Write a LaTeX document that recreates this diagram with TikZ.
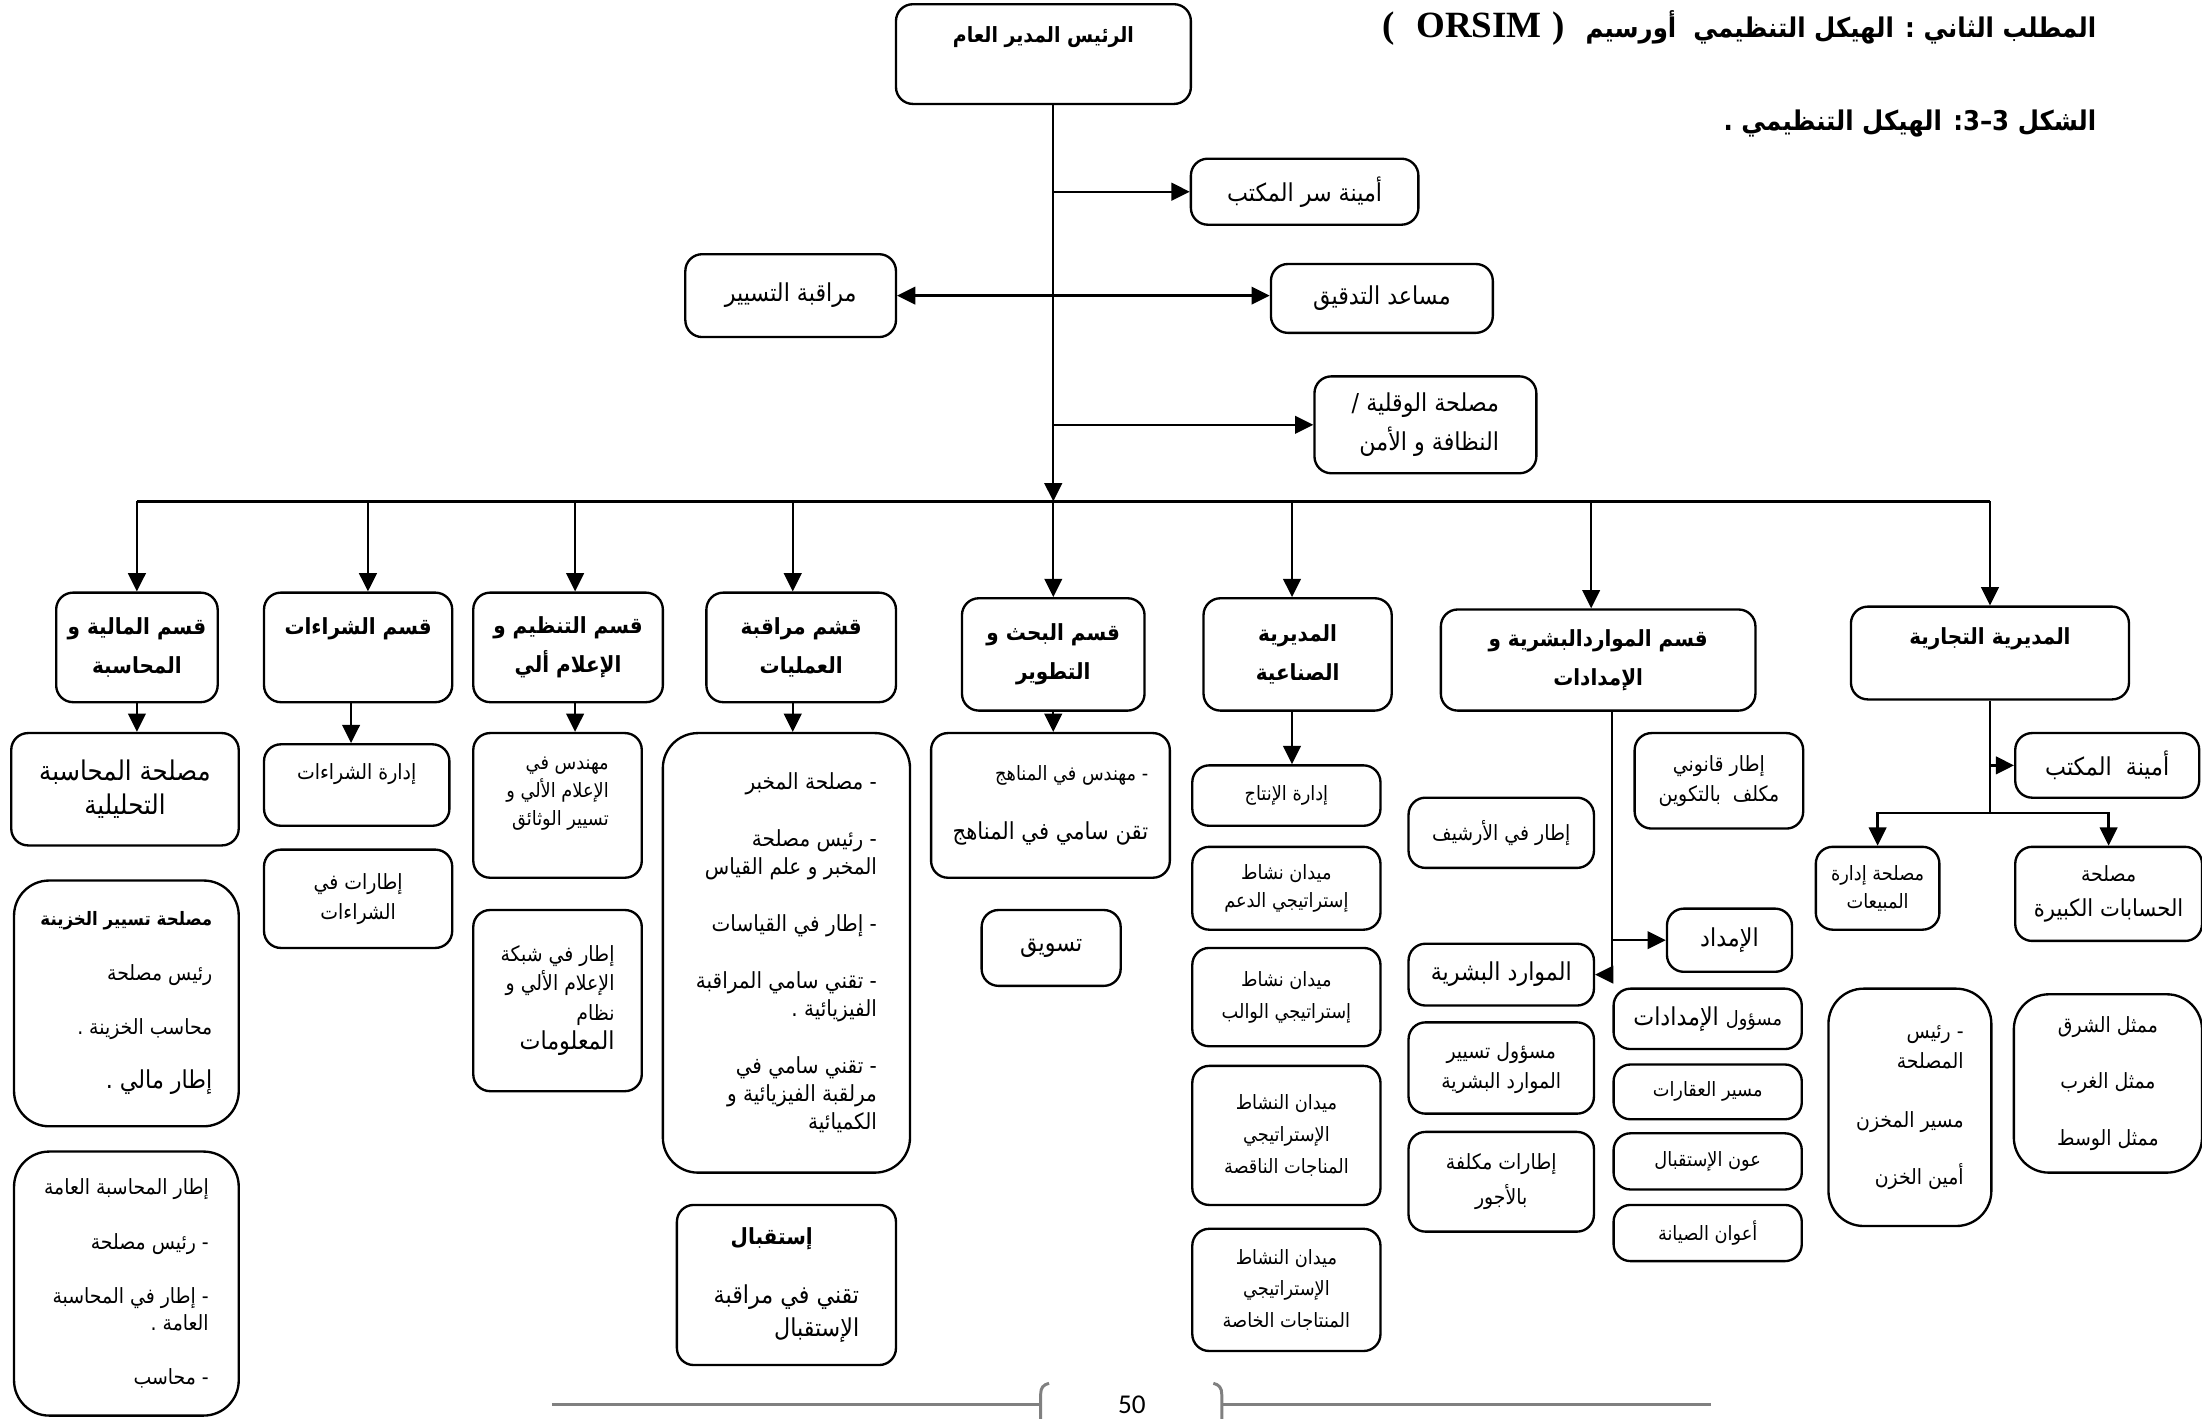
\documentclass[tikz,border=0pt]{standalone}
\usepackage{fontspec}
\newfontfamily\arabicfont[Script=Arabic,FakeStretch=0.9]{DejaVu Sans}
\newfontfamily\latinserif{Liberation Serif}
\newfontfamily\pagefont{Carlito}
\TeXXeTstate=1
\usetikzlibrary{arrows.meta,calc}
\newcommand{\ar}[1]{\beginR #1\endR}
\newcommand{\orgbox}[7]{%
  \node[box,#1,minimum width={(#5-(#3))*0.2mm},minimum height={(#6-(#4))*0.2mm}]
    (#2) at ({(#3+#5)/2},{(#4+#6)/2}) {#7};%
}

\begin{document}
\begin{tikzpicture}[
  x=0.2mm, y=-0.2mm,
  >={Triangle[length=2.6mm,width=2.5mm]},
  box/.style={draw, line width=0.95pt, rounded corners=2.4mm, inner xsep=3pt, inner ysep=0pt, align=center},
  bigcorner/.style={rounded corners=5mm},
  topline/.style 2 args={text height=#1, text depth=#2},
  titletxt/.style={font=\arabicfont\bfseries\fontsize{11}{14}\selectfont, inner sep=0pt},
  headtxt/.style={font=\arabicfont\bfseries\fontsize{9}{16}\selectfont},
  headsmall/.style={font=\arabicfont\bfseries\fontsize{8.5}{12}\selectfont},
  bodyL/.style={font=\arabicfont\fontsize{10}{14}\selectfont},
  bodyM/.style={font=\arabicfont\fontsize{8.5}{12}\selectfont},
  bodyS/.style={font=\arabicfont\fontsize{8}{11.4}\selectfont},
  wire/.style={line width=0.95pt},
  link/.style={->, line width=0.95pt},
  footer/.style={draw=black!50, line width=1.2pt}
]
\path[use as bounding box] (0,0) rectangle (1568,1010);

% Heading
\node[titletxt, anchor=east] (title) at (1493,20)
  {{\latinserif\bfseries\fontsize{15}{17}\selectfont (\hspace{3mm}ORSIM\hspace{1.5mm})}\hspace{3mm}\ar{المطلب الثاني : الهيكل التنظيمي \ أورسيم}};
\node[titletxt, anchor=east] (figcap) at (1493,88)
  {\ar{الشكل 3–3: الهيكل التنظيمي .}};

% General management and staff
\orgbox{headsmall,topline={15.4pt}{25pt}}{ceo}{638}{3}{848}{74}{\ar{الرئيس المدير العام}}
\orgbox{bodyL}{sec}{848}{113}{1010}{160}{\ar{أمينة سر المكتب}}
\orgbox{bodyL}{ctrl}{488}{181}{638}{240}{\ar{مراقبة التسيير}}
\orgbox{bodyL}{audit}{905}{188}{1063}{237}{\ar{مساعد التدقيق}}
\orgbox{bodyL,align=right}{safe}{936}{268}{1094}{337}{\ar{مصلحة الوقلية /}\\[2pt]\ar{النظافة و الأمن}}

\coordinate (trunk) at ([xshift=1.4mm]ceo.south);
\coordinate (bus) at (750,357);
\draw[link] (trunk) -- (trunk |- bus);
\draw[link] (trunk |- sec.west) -- (sec.west);
\draw[wire, <->] (ctrl.east) -- (ctrl.east -| audit.west);
\draw[link] (trunk |- safe.west) -- (safe.west);

% Departments
\orgbox{headtxt}{fin}{40}{422}{155}{500}{\ar{قسم المالية و}\\\ar{المحاسبة}}
\orgbox{headtxt,topline={17pt}{27.4pt}}{pur}{188}{422}{322}{500}{\ar{قسم الشراءات}}
\orgbox{headtxt}{org}{337}{422}{472}{500}{\ar{قسم التنظيم و}\\\ar{الإعلام ألي}}
\orgbox{headtxt}{ops}{503}{422}{638}{500}{\ar{قشم مراقبة}\\\ar{العمليات}}
\orgbox{headtxt}{rd}{685}{426}{815}{506}{\ar{قسم البحث و}\\\ar{التطوير}}
\orgbox{headtxt}{ind}{857}{426}{991}{506}{\ar{المديرية}\\\ar{الصناعية}}
\orgbox{headtxt}{hr}{1026}{434}{1250}{506}{\ar{قسم المواردالبشرية و}\\\ar{الإمدادات}}
\orgbox{headtxt,topline={15.4pt}{22.2pt}}{com}{1318}{432}{1516}{498}{\ar{المديرية التجارية}}

\draw[wire] (fin.north |- bus) -- (com.north |- bus);
\foreach \d/\s in {fin/0,pur/7,org/5,ops/-6,rd/0,ind/-4,hr/-5,com/0}
  \draw[link] ([xshift=\s*0.2mm]\d.north |- bus) -- ([xshift=\s*0.2mm]\d.north);

% Finance
\orgbox{bodyL,font=\arabicfont\fontsize{11}{14}\selectfont}{fone}{8}{522}{170}{602}{\ar{مصلحة المحاسبة}\\\ar{التحليلية}}
\orgbox{bodyM,bigcorner,align=right}{ftwo}{10}{627}{170}{802}
  {\ar{{\bfseries\fontsize{7.5}{10}\selectfont مصلحة تسيير الخزينة}}\\[10pt]\ar{رئيس مصلحة}\\[10pt]\ar{محاسب الخزينة .}\\[10pt]\ar{{\fontsize{10}{14}\selectfont إطار مالي .}}}
\orgbox{bodyM,bigcorner,align=right}{fthree}{10}{820}{170}{1008}
  {\ar{إطار المحاسبة العامة}\\[10pt]\ar{- رئيس مصلحة}\\[10pt]\ar{- إطار في المحاسبة}\\[-1pt]\ar{العامة .}\\[10pt]\ar{- محاسب}}

% Purchasing
\orgbox{bodyM,topline={14.2pt}{18.8pt}}{pone}{188}{530}{320}{588}{\ar{إدارة الشراءات}}
\orgbox{bodyM}{ptwo}{188}{605}{322}{675}{\ar{إطارات في}\\\ar{الشراءات}}

% Organisation and computing
\orgbox{bodyS,align=right,topline={37.6pt}{21pt}}{oone}{337}{522}{457}{625}
  {\ar{مهندس في}\\\ar{الإعلام الألي و}\\\ar{تسيير الوثائق}}
\orgbox{bodyM,align=right}{otwo}{337}{648}{457}{777}
  {\ar{إطار في شبكة}\\\ar{الإعلام الألي و}\\\ar{نظام}\\\ar{{\fontsize{10}{14}\selectfont المعلومات}}}

% Operations control
\orgbox{bigcorner,align=right,font=\arabicfont\fontsize{9}{11.4}\selectfont}{cone}{472}{522}{648}{835}
  {\ar{- مصلحة المخبر}\\[11.6pt]\ar{- رئيس مصلحة}\\\ar{المخبر و علم القياس}\\[11.6pt]\ar{- إطار في القياسات}\\[11.6pt]%
   \ar{- تقني سامي المراقبة}\\\ar{الفيزيائية .}\\[11.6pt]\ar{- تقني سامي في}\\\ar{مرلقبة الفيزيائية و}\\\ar{الكميائية}}
\orgbox{bodyL,align=right}{ctwo}{482}{858}{638}{972}
  {\ar{{\bfseries\fontsize{9}{10}\selectfont إستقبال}}\rule{6.6mm}{0pt}\\[10pt]\ar{تقني في مراقبة}\\[-1pt]\ar{الإستقبال}}

% Research and development
\orgbox{align=right,font=\arabicfont}{rone}{663}{522}{833}{625}
  {\ar{{\fontsize{8}{9}\selectfont - مهندس في المناهج}}\\[12pt]\ar{{\fontsize{9.5}{12}\selectfont تقن سامي في المناهج}}}
\orgbox{bodyL}{rtwo}{699}{648}{798}{702}{\ar{تسويق}}

% Industrial directorate
\orgbox{bodyS}{ione}{849}{545}{983}{588}{\ar{إدارة الإنتاج}}
\orgbox{bodyS}{itwo}{849}{603}{983}{662}{\ar{ميدان نشاط}\\\ar{إستراتيجي الدعم}}
\orgbox{bodyS}{ithree}{849}{675}{983}{745}{\ar{ميدان نشاط}\\[1.5pt]\ar{إستراتيجي الوالب}}
\orgbox{bodyS}{ifour}{849}{759}{983}{858}{\ar{ميدان النشاط}\\[1.5pt]\ar{الإستراتيجي}\\[1.5pt]\ar{المناجات الناقصة}}
\orgbox{bodyS}{ifive}{849}{875}{983}{962}{\ar{ميدان النشاط}\\[1.5pt]\ar{الإستراتيجي}\\[1.5pt]\ar{المنتاجات الخاصة}}

\foreach \a/\b/\s in {fin/fone/0,pur/pone/-5,org/oone/5,ops/cone/-6,rd/rone/0,ind/ione/-4}
  \draw[link] ([xshift=\s*0.2mm]\a.south) -- ([xshift=\s*0.2mm]\a.south |- \b.north);

% Human resources and supplies
\orgbox{bodyM}{htrain}{1164}{522}{1284}{590}{\ar{إطار قانوني}\\\ar{مكلف \ بالتكوين}}
\orgbox{bodyM}{harch}{1003}{568}{1135}{618}{\ar{إطار في الأرشيف}}
\orgbox{bodyL}{supply}{1187}{647}{1276}{692}{\ar{الإمداد}}
\orgbox{bodyL}{hrm}{1003}{672}{1135}{716}{\ar{الموارد البشرية}}
\orgbox{bodyM}{hthree}{1003}{728}{1135}{793}{\ar{مسؤول تسيير}\\\ar{الموارد البشرية}}
\orgbox{bodyM}{hfour}{1003}{806}{1135}{877}{\ar{إطارات مكلفة}\\[2pt]\ar{بالأجور}}
\orgbox{font=\arabicfont}{sone}{1149}{704}{1283}{747}
  {\ar{{\fontsize{8}{9}\selectfont مسؤول} {\fontsize{10}{12}\selectfont الإمدادات}}}
\orgbox{bodyS}{stwo}{1149}{758}{1283}{797}{\ar{مسير العقارات}}
\orgbox{bodyS}{sthree}{1149}{807}{1283}{847}{\ar{عون الإستقبال}}
\orgbox{bodyS}{sfour}{1149}{858}{1283}{898}{\ar{أعوان الصيانة}}

\coordinate (hrstem) at ([xshift=2mm]hr.south);
\draw[link] (hrstem) |- (hrm.east);
\draw[link] (hrstem |- supply.west) -- (supply.west);

% Commercial directorate
\orgbox{bodyL}{sectwo}{1435}{522}{1566}{568}{\ar{أمينة \ المكتب}}
\orgbox{bodyS}{msone}{1293}{603}{1381}{662}{\ar{مصلحة إدارة}\\\ar{المبيعات}}
\orgbox{bodyM}{mstwo}{1435}{603}{1568}{670}{\ar{مصلحة}\\[2pt]\ar{{\fontsize{9.5}{12}\selectfont الحسابات الكبيرة}}}
\orgbox{bodyM,bigcorner,align=right}{msthree}{1302}{704}{1418}{873}
  {\ar{- رئيس}\\\ar{المصلحة}\\[12pt]\ar{مسير المخزن}\\[11pt]\ar{أمين الخزن}}
\orgbox{bodyM,bigcorner}{msfour}{1434}{708}{1568}{835}
  {\ar{ممثل الشرق}\\[11pt]\ar{ممثل الغرب}\\[11pt]\ar{ممثل الوسط}}

\coordinate (comfork) at ($(com.south)+(0,80)$);
\draw[wire] (com.south) -- (comfork);
\draw[link] (com.south |- sectwo.west) -- (sectwo.west);
\draw[link] (comfork) -| (msone.north);
\draw[link] (comfork) -| (mstwo.north);

% Page footer
\draw[footer] (393,1000) -- (741,1000);
\draw[footer] (741,1012) -- (741,993) .. controls (741,988) and (743,986) .. (747,985);
\draw[footer] (870,1000) -- (1218,1000);
\draw[footer] (870,1012) -- (870,993) .. controls (870,988) and (868,986) .. (864,985);
\node[font=\pagefont\fontsize{11}{13}\selectfont] (pagenum) at (806,1000) {50};

\end{tikzpicture}
\end{document}
